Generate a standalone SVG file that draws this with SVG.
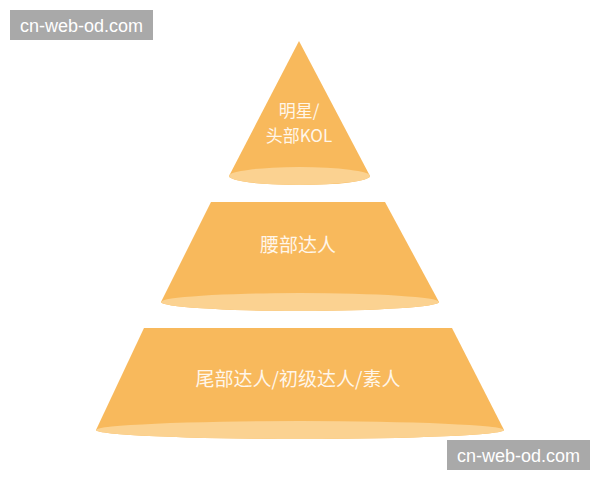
<svg xmlns="http://www.w3.org/2000/svg" width="600" height="480" viewBox="0 0 600 480">
<style>
.tier{fill:#F8B95C}
.base{fill:#FBD291}
.lbl{font-family:"Noto Sans CJK SC","Liberation Sans",sans-serif;font-size:18px;fill:#FFF6EA;text-anchor:middle}
.wm rect{fill:#A9A9A9}
.wm text{font-family:"Liberation Sans",Arial,sans-serif;font-size:18px;fill:#FFFFFF;text-anchor:middle}
</style>
<rect width="600" height="480" fill="#FFFFFF"/>
<g id="tier-top">
<path class="tier" d="M299,41 L370,176 A70,9 0 0 1 229,176 Z"/>
<ellipse class="base" cx="299.5" cy="176" rx="70.5" ry="9"/>
<text class="lbl" x="299" y="117" style="font-size:17px">明星/</text>
<text class="lbl" x="299" y="142" style="font-size:17px">头部KOL</text>
</g>
<g id="tier-middle">
<path class="tier" d="M211,202 L385,202 L439,302 A139,9 0 0 1 161,302 Z"/>
<ellipse class="base" cx="300" cy="302" rx="139" ry="9"/>
<text class="lbl" x="298" y="252" style="font-size:19px">腰部达人</text>
</g>
<g id="tier-bottom">
<path class="tier" d="M144,328 L452,328 L504,430 A204,9 0 0 1 96,430 Z"/>
<ellipse class="base" cx="300" cy="430" rx="204" ry="9"/>
<text class="lbl" x="298" y="386" style="font-size:19px">尾部达人/初级达人/素人</text>
</g>
<g id="connectors"></g>
<g id="watermark-top" class="wm">
<rect x="10" y="10" width="143" height="30"/>
<text x="81.5" y="31.5">cn-web-od.com</text>
</g>
<g id="watermark-bottom" class="wm">
<rect x="447" y="440" width="143" height="30"/>
<text x="518.5" y="461.5">cn-web-od.com</text>
</g>
</svg>
